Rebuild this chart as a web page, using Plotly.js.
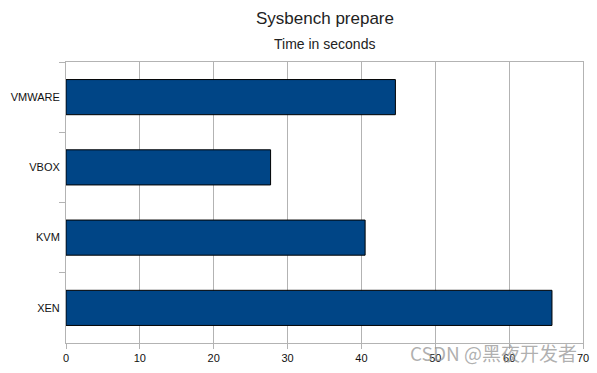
<!DOCTYPE html>
<html>
<head>
<meta charset="utf-8">
<script src="https://cdn.plot.ly/plotly-3.0.1.min.js"></script>
<style>
  html, body { margin: 0; padding: 0; background: #fff; }
  #chart { width: 597px; height: 373px; }
</style>
</head>
<body>
<div id="chart"></div>
<script>
// Sysbench "prepare" phase duration per hypervisor
const hypervisors = ['VMWARE', 'VBOX', 'KVM', 'XEN'];
const prepareSeconds = [44.6, 27.7, 40.5, 65.8];
const xTickValues = [0, 10, 20, 30, 40, 50, 60, 70];

const trace = {
  type: 'bar',
  orientation: 'h',
  y: hypervisors,
  x: prepareSeconds,
  marker: { color: '#004586', line: { color: '#000000', width: 1 } },
  hoverinfo: 'x+y'
};

const layout = {
  width: 597,
  height: 373,
  margin: { l: 66, r: 14, t: 62, b: 30 },
  paper_bgcolor: '#ffffff',
  plot_bgcolor: '#ffffff',
  font: { family: 'Liberation Sans, Arial, sans-serif', color: '#111', size: 11 },
  showlegend: false,
  bargap: 0.5,
  xaxis: {
    range: [0, 70],
    tickvals: xTickValues,
    showgrid: true,
    gridcolor: '#b3b3b3',
    gridwidth: 1,
    zeroline: false,
    showline: true,
    linecolor: '#b3b3b3',
    linewidth: 1,
    mirror: true,
    ticks: 'outside',
    ticklen: 5,
    tickcolor: '#b3b3b3',
    tickfont: { size: 11 }
  },
  yaxis: {
    autorange: 'reversed',
    tickson: 'boundaries',
    showgrid: false,
    zeroline: false,
    showline: true,
    linecolor: '#b3b3b3',
    linewidth: 1,
    mirror: true,
    ticks: 'outside',
    ticklen: 6,
    tickcolor: '#b3b3b3',
    ticklabelstandoff: 3,
    tickfont: { size: 11 }
  },
  annotations: [
    {
      text: 'Sysbench prepare',
      xref: 'paper', yref: 'paper',
      x: 0.5, y: 1, xanchor: 'center', yanchor: 'bottom',
      yshift: 32, showarrow: false,
      font: { size: 17, color: '#222' }
    },
    {
      text: 'Time in seconds',
      xref: 'paper', yref: 'paper',
      x: 0.5, y: 1, xanchor: 'center', yanchor: 'bottom',
      yshift: 8, showarrow: false,
      font: { size: 14, color: '#222' }
    },
    {
      text: 'CSDN @黑夜开发者',
      xref: 'paper', yref: 'paper',
      x: 1, y: 0, xanchor: 'right', yanchor: 'middle',
      yshift: -9, xshift: -4, showarrow: false,
      font: { family: 'Noto Sans CJK SC, sans-serif', size: 19, color: 'rgba(150,150,150,0.75)' }
    }
  ]
};

Plotly.newPlot('chart', [trace], layout, { displayModeBar: false, staticPlot: true });
</script>
</body>
</html>
